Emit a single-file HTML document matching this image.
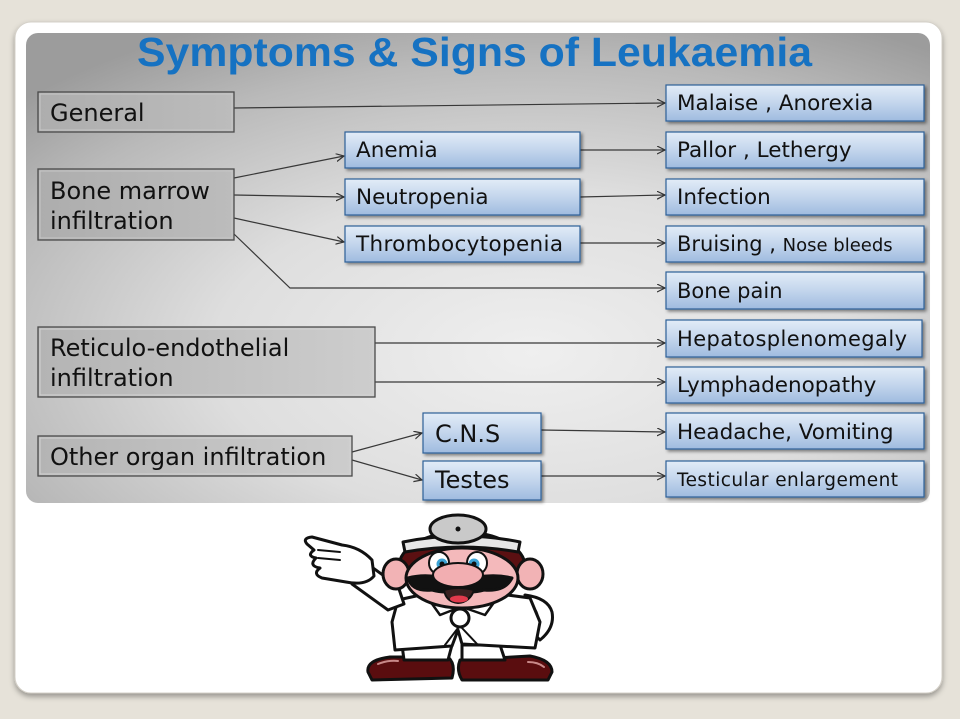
<!DOCTYPE html>
<html>
<head>
<meta charset="utf-8">
<style>
  html,body{margin:0;padding:0;background:#e6e2d9;}
  body{width:960px;height:719px;overflow:hidden;}
  svg{display:block;}
  .t{font-family:"DejaVu Sans","Liberation Sans",sans-serif;fill:#111;}
</style>
</head>
<body>
<svg width="960" height="719" viewBox="0 0 960 719" xmlns="http://www.w3.org/2000/svg">
  <defs>
    <radialGradient id="panel" cx="0.56" cy="0.68" r="0.78">
      <stop offset="0" stop-color="#efefef"/>
      <stop offset="0.45" stop-color="#dedede"/>
      <stop offset="0.8" stop-color="#b9b9b9"/>
      <stop offset="1" stop-color="#9c9c9c"/>
    </radialGradient>
    <linearGradient id="blue" x1="0" y1="0" x2="0" y2="1">
      <stop offset="0" stop-color="#e2ecf7"/>
      <stop offset="0.5" stop-color="#c3d5ec"/>
      <stop offset="1" stop-color="#9fbbdf"/>
    </linearGradient>
    <linearGradient id="gray" x1="0" y1="0" x2="1" y2="0">
      <stop offset="0" stop-color="#adadad"/>
      <stop offset="1" stop-color="#bcbcbc"/>
    </linearGradient>
    <linearGradient id="gray2" x1="0" y1="0" x2="1" y2="0">
      <stop offset="0" stop-color="#b4b4b4"/>
      <stop offset="1" stop-color="#cdcdcd"/>
    </linearGradient>
    <filter id="sh" x="-10%" y="-20%" width="130%" height="160%">
      <feDropShadow dx="2" dy="2" stdDeviation="1.5" flood-color="#000" flood-opacity="0.45"/>
    </filter>
    <filter id="cardsh" x="-5%" y="-5%" width="110%" height="110%">
      <feDropShadow dx="0" dy="3" stdDeviation="3" flood-color="#000" flood-opacity="0.35"/>
    </filter>
    <marker id="arr" markerWidth="10" markerHeight="10" refX="8" refY="4" orient="auto" markerUnits="userSpaceOnUse">
      <path d="M0,0 L8,4 L0,8" fill="none" stroke="#333" stroke-width="1.2"/>
    </marker>
  </defs>

  <rect x="0" y="0" width="960" height="719" fill="#e6e2d9"/>
  <rect x="15" y="22" width="927" height="671" rx="16" fill="#ffffff" stroke="#d4d0c8" stroke-width="1" filter="url(#cardsh)"/>
  <rect x="26" y="33" width="904" height="470" rx="12" fill="url(#panel)"/>

  <text x="137" y="66" font-family="'Liberation Sans',sans-serif" font-weight="bold" font-size="41" fill="#1672c2" textLength="675" lengthAdjust="spacingAndGlyphs">Symptoms &amp; Signs of Leukaemia</text>

  <g stroke="#383838" stroke-width="1.2" fill="none">
    <line x1="234" y1="108" x2="665" y2="103" marker-end="url(#arr)"/>
    <line x1="234" y1="178" x2="344" y2="156" marker-end="url(#arr)"/>
    <line x1="234" y1="195" x2="344" y2="197" marker-end="url(#arr)"/>
    <line x1="234" y1="218" x2="344" y2="242" marker-end="url(#arr)"/>
    <polyline points="234,234 290,288 665,288" marker-end="url(#arr)"/>
    <line x1="580" y1="150" x2="665" y2="150" marker-end="url(#arr)"/>
    <line x1="580" y1="197" x2="665" y2="195" marker-end="url(#arr)"/>
    <line x1="580" y1="243" x2="665" y2="243" marker-end="url(#arr)"/>
    <line x1="375" y1="343" x2="665" y2="343" marker-end="url(#arr)"/>
    <line x1="375" y1="382" x2="665" y2="382" marker-end="url(#arr)"/>
    <line x1="352" y1="452" x2="422" y2="433" marker-end="url(#arr)"/>
    <line x1="352" y1="460" x2="422" y2="480" marker-end="url(#arr)"/>
    <line x1="541" y1="430" x2="665" y2="432" marker-end="url(#arr)"/>
    <line x1="541" y1="476" x2="665" y2="476" marker-end="url(#arr)"/>
  </g>

  <g>
    <rect x="38" y="92" width="196" height="40" fill="url(#gray)" stroke="#4a4a4a" stroke-width="1.3"/>
    <rect x="40" y="94" width="192" height="36" fill="none" stroke="#c6c6c6" stroke-width="1"/>
    <text class="t" x="50" y="121" font-size="24">General</text>

    <rect x="38" y="169" width="196" height="71" fill="url(#gray)" stroke="#4a4a4a" stroke-width="1.3"/>
    <rect x="40" y="171" width="192" height="67" fill="none" stroke="#c6c6c6" stroke-width="1"/>
    <text class="t" x="50" y="199" font-size="24">Bone marrow</text>
    <text class="t" x="50" y="229" font-size="24">infiltration</text>

    <rect x="38" y="327" width="337" height="70" fill="url(#gray2)" stroke="#4a4a4a" stroke-width="1.3"/>
    <rect x="40" y="329" width="333" height="66" fill="none" stroke="#d2d2d2" stroke-width="1"/>
    <text class="t" x="50" y="356" font-size="24">Reticulo-endothelial</text>
    <text class="t" x="50" y="386" font-size="24">infiltration</text>

    <rect x="38" y="436" width="314" height="40" fill="url(#gray2)" stroke="#4a4a4a" stroke-width="1.3"/>
    <rect x="40" y="438" width="310" height="36" fill="none" stroke="#d2d2d2" stroke-width="1"/>
    <text class="t" x="50" y="465" font-size="24">Other organ infiltration</text>
  </g>

  <g>
    <rect x="345" y="132" width="235" height="36" fill="url(#blue)" stroke="#2f6098" stroke-width="1.2" filter="url(#sh)"/>
    <text class="t" x="356" y="157" font-size="21.5">Anemia</text>
    <rect x="345" y="179" width="235" height="36" fill="url(#blue)" stroke="#2f6098" stroke-width="1.2" filter="url(#sh)"/>
    <text class="t" x="356" y="204" font-size="21.5">Neutropenia</text>
    <rect x="345" y="226" width="235" height="36" fill="url(#blue)" stroke="#2f6098" stroke-width="1.2" filter="url(#sh)"/>
    <text class="t" x="356" y="251" font-size="21.5" textLength="207">Thrombocytopenia</text>

    <rect x="423" y="413" width="118" height="40" fill="url(#blue)" stroke="#2f6098" stroke-width="1.2" filter="url(#sh)"/>
    <text class="t" x="435" y="442" font-size="24">C.N.S</text>
    <rect x="423" y="461" width="118" height="39" fill="url(#blue)" stroke="#2f6098" stroke-width="1.2" filter="url(#sh)"/>
    <text class="t" x="435" y="488" font-size="24">Testes</text>
  </g>

  <g>
    <rect x="666" y="85" width="258" height="36" fill="url(#blue)" stroke="#2f6098" stroke-width="1.2" filter="url(#sh)"/>
    <text class="t" x="677" y="110" font-size="21.5">Malaise , Anorexia</text>
    <rect x="666" y="132" width="258" height="36" fill="url(#blue)" stroke="#2f6098" stroke-width="1.2" filter="url(#sh)"/>
    <text class="t" x="677" y="157" font-size="21.5">Pallor , Lethergy</text>
    <rect x="666" y="179" width="258" height="36" fill="url(#blue)" stroke="#2f6098" stroke-width="1.2" filter="url(#sh)"/>
    <text class="t" x="677" y="204" font-size="21.5">Infection</text>
    <rect x="666" y="226" width="258" height="36" fill="url(#blue)" stroke="#2f6098" stroke-width="1.2" filter="url(#sh)"/>
    <text class="t" x="677" y="251" font-size="21">Bruising , <tspan font-size="18">Nose bleeds</tspan></text>
    <rect x="666" y="272" width="258" height="37" fill="url(#blue)" stroke="#2f6098" stroke-width="1.2" filter="url(#sh)"/>
    <text class="t" x="677" y="298" font-size="21">Bone pain</text>
    <rect x="666" y="320" width="256" height="37" fill="url(#blue)" stroke="#2f6098" stroke-width="1.2" filter="url(#sh)"/>
    <text class="t" x="677" y="346" font-size="21" textLength="230">Hepatosplenomegaly</text>
    <rect x="666" y="367" width="258" height="36" fill="url(#blue)" stroke="#2f6098" stroke-width="1.2" filter="url(#sh)"/>
    <text class="t" x="677" y="392" font-size="21.5">Lymphadenopathy</text>
    <rect x="666" y="413" width="258" height="36" fill="url(#blue)" stroke="#2f6098" stroke-width="1.2" filter="url(#sh)"/>
    <text class="t" x="677" y="439" font-size="21.5">Headache, Vomiting</text>
    <rect x="666" y="461" width="258" height="36" fill="url(#blue)" stroke="#2f6098" stroke-width="1.2" filter="url(#sh)"/>
    <text class="t" x="677" y="486" font-size="18.5" textLength="221">Testicular enlargement</text>
  </g>

  <g stroke="#111" stroke-width="3" stroke-linejoin="round" stroke-linecap="round">
    <path d="M368,672 Q366,660 390,657 L448,657 Q456,664 452,678 L372,680 Z" fill="#5a0d0f"/>
    <path d="M460,660 L530,656 Q552,660 552,672 L548,680 L462,680 Q456,670 460,660 Z" fill="#5a0d0f"/>
    <path d="M378,664 Q388,660 398,661" stroke="#c98a8a" stroke-width="2" fill="none"/>
    <path d="M528,662 Q538,662 544,667" stroke="#c98a8a" stroke-width="2" fill="none"/>
    <path d="M402,645 L404,660 L448,660 L452,645 Z" fill="#fff"/>
    <path d="M462,645 L462,660 L505,660 L500,645 Z" fill="#fff"/>
    <path d="M525,595 Q548,598 552,612 Q555,628 540,640 L530,630 Q540,620 536,612 Z" fill="#fff"/>
    <path d="M398,600 L425,594 L460,606 L500,594 L530,598 L540,622 L535,648 L462,644 L458,630 L452,646 L395,650 L392,622 Z" fill="#fff"/>
    <path d="M425,594 L440,615 L458,608" fill="none" stroke-width="2.5"/>
    <path d="M500,594 L485,615 L465,608" fill="none" stroke-width="2.5"/>
    <path d="M458,628 L445,645" fill="none" stroke-width="2"/>
    <path d="M462,628 L478,645" fill="none" stroke-width="2"/>
    <circle cx="460" cy="618" r="9" fill="#fff"/>
    <path d="M362,560 L398,586 L404,604 L388,610 L352,584 Z" fill="#fff"/>
    <path d="M307,544 Q302,538 312,537 L342,545 Q360,547 372,560 L374,576 Q366,586 346,582 L322,578 Q312,574 320,568 Q308,566 316,558 Q306,556 314,550 Z" fill="#fff"/>
    <path d="M318,550 L340,552" fill="none" stroke-width="2"/>
    <path d="M318,558 L340,560" fill="none" stroke-width="2"/>
    <ellipse cx="462" cy="566" rx="63" ry="34" fill="#5b1012"/>
    <ellipse cx="396" cy="574" rx="13" ry="15" fill="#f2b3b5"/>
    <ellipse cx="530" cy="574" rx="13" ry="15" fill="#f2b3b5"/>
    <ellipse cx="462" cy="578" rx="56" ry="30" fill="#f4b9bb"/>
    <path d="M403,542 Q462,530 520,542 L518,552 Q462,542 405,552 Z" fill="#e6e6e6"/>
    <ellipse cx="458" cy="529" rx="28" ry="14" fill="#c9c9c9"/>
    <circle cx="458" cy="529" r="2.5" fill="#111" stroke="none"/>
    <ellipse cx="439" cy="563" rx="10" ry="11" fill="#fff" stroke-width="2"/>
    <ellipse cx="477" cy="563" rx="10" ry="11" fill="#fff" stroke-width="2"/>
    <circle cx="442" cy="564" r="5.5" fill="#3ca4d6" stroke="none"/>
    <circle cx="474" cy="564" r="5.5" fill="#3ca4d6" stroke="none"/>
    <circle cx="442" cy="564" r="2.5" fill="#111" stroke="none"/>
    <circle cx="474" cy="564" r="2.5" fill="#111" stroke="none"/>
    <path d="M408,578 Q430,572 458,582 Q488,572 512,578 Q505,592 484,590 Q470,594 458,590 Q446,594 432,590 Q412,592 408,578 Z" fill="#111"/>
    <ellipse cx="458" cy="575" rx="25" ry="12" fill="#f2aeb1" stroke-width="2"/>
    <path d="M444,590 Q458,586 474,590 Q470,602 458,603 Q446,602 444,590 Z" fill="#3a2020" stroke-width="2"/>
    <ellipse cx="459" cy="599" rx="9" ry="3.5" fill="#e23a4c" stroke="none"/>
  </g>
</svg>
</body>
</html>
